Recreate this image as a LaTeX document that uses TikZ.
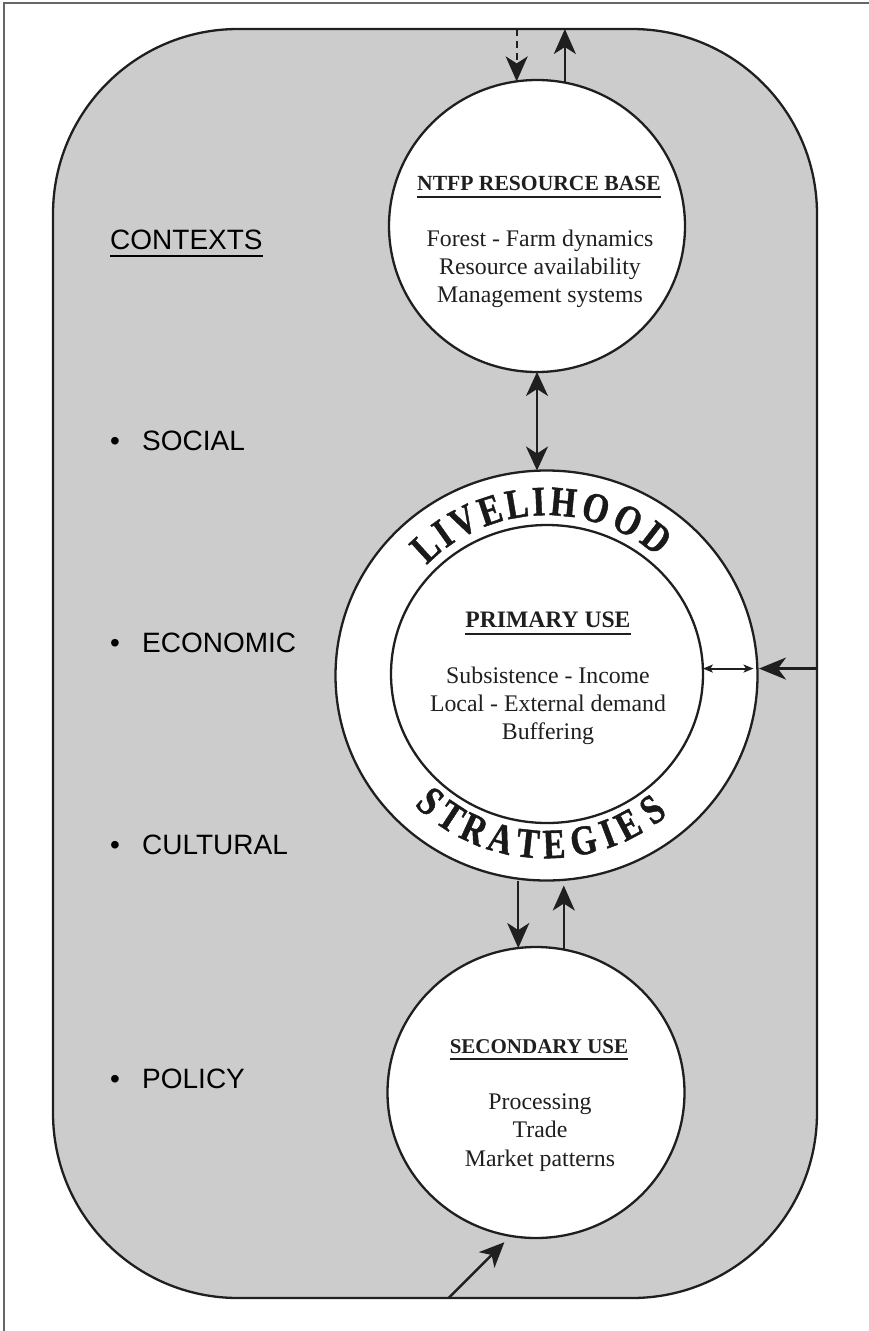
\documentclass[tikz,border=0pt]{standalone}
\usepackage{fontspec}
\setmainfont{Liberation Serif}
\newfontfamily\ctxfont{Liberation Sans}
\newfontfamily\arcfont{Liberation Serif}[FakeStretch=0.8, BoldFeatures={FakeBold=1}]
\usetikzlibrary{shapes.geometric,arrows.meta,calc}
\begin{document}
\begin{tikzpicture}[x=1pt, y=-1pt,
  outline/.style={draw=black!88, line width=2.3pt},
  bubble/.style={ellipse, outline, fill=white, inner sep=0pt, outer sep=0pt},
  bigtip/.style={-{Stealth[length=25pt,width=22pt,inset=7pt]}},
  arr/.style={draw=black!88, line width=2.4pt, bigtip},
  dblarr/.style={draw=black!88, line width=2.4pt, {Stealth[length=24pt,width=22pt,inset=7pt]}-{Stealth[length=24pt,width=22pt,inset=7pt]}},
  smallarr/.style={draw=black!88, line width=2pt, {Stealth[length=10pt,width=8pt,inset=2.5pt]}-{Stealth[length=10pt,width=8pt,inset=2.5pt]}},
  body/.style={font=\fontsize{23.8}{28}\selectfont, inner sep=0pt, anchor=base, text=black!88},
  head/.style={font=\bfseries\fontsize{#1}{#1}\selectfont, inner sep=0pt, anchor=base, text=black!88},
  uline/.style={draw=black!88, line width=1.4pt},
  ctxtext/.style={font=\ctxfont\fontsize{28}{32}\selectfont, inner sep=0pt, anchor=base west},
  arcletter/.style={font=\arcfont\bfseries\fontsize{42}{44}\selectfont, inner sep=0pt, anchor=center, text=black!90},
]
\useasboundingbox (0,0) rectangle (869,1331);
% page frame (top and left edges)
\draw[draw=black!60, line width=1.3pt] (869,3) -- (4,3) -- (4,1331);

% contexts area
\node[outline, fill=black!20, rounded corners=185pt, minimum width=764pt, minimum height=1269pt, inner sep=0pt, outer sep=0pt] (ctx) at (435,663.5) {};

% circles
\node[bubble, minimum width=296pt, minimum height=292pt] (t) at (537,226) {};
\node[bubble, minimum width=422pt, minimum height=410pt] (lo) at (546.5,675.5) {};
\node[bubble, minimum width=312pt, minimum height=298pt] (li) at (547,674) {};
\node[bubble, minimum width=297pt, minimum height=291pt] (s) at (536,1092.5) {};

% top circle text
\node[head=21.6] (th) at (539,190) {NTFP RESOURCE BASE};
\draw[uline] ([yshift=-7pt]th.base west) -- ([yshift=-7pt]th.base east);
\node[body] (t1) at (540,246) {Forest - Farm dynamics};
\node[body] (t2) at (540,274) {Resource availability};
\node[body] (t3) at (540,302) {Management systems};

% primary use text
\node[head=23.6] (ph) at (548,627) {PRIMARY USE};
\draw[uline] ([yshift=-7pt]ph.base west) -- ([yshift=-7pt]ph.base east);
\node[body] (p1) at (548,683) {Subsistence - Income};
\node[body] (p2) at (548,711.5) {Local - External demand};
\node[body] (p3) at (548,739.5) {Buffering};

% secondary use text
\node[head=21] (sh) at (539,1053) {SECONDARY USE};
\draw[uline] ([yshift=-6pt]sh.base west) -- ([yshift=-6pt]sh.base east);
\node[body] (s1) at (540,1109) {Processing};
\node[body] (s2) at (540,1137) {Trade};
\node[body] (s3) at (540,1166) {Market patterns};

% ring lettering
\foreach \ch/\a [count=\i] in {L/132.5,I/125.3,V/117.6,E/108.4,L/99.6,I/92.5,H/84.6,O/74,O/63,D/52.2}
  \node[arcletter, rotate=\a-90] (liv\i) at ({546.5+1.03*174*cos(\a)},{675.5-174*sin(\a)}) {\ch};
\foreach \ch/\a [count=\i] in {S/228.1,T/236.7,R/245.5,A/254.8,T/263.9,E/272.5,G/282.3,I/290.6,E/298,S/307.5}
  \node[arcletter, rotate=\a+90] (str\i) at ({546.5+1.03*169*cos(\a)},{675.5-169*sin(\a)}) {\ch};

% contexts list
\node[ctxtext] (ctxh) at (110,249) {CONTEXTS};
\draw[draw=black, line width=1.2pt] ([yshift=-7pt]ctxh.base west) -- ([yshift=-7pt]ctxh.base east);
\node[ctxtext, anchor=base] (b1) at (115,450) {\textbullet};
\node[ctxtext] (c1) at (142,450) {SOCIAL};
\node[ctxtext, anchor=base] (b2) at (115,652) {\textbullet};
\node[ctxtext] (c2) at (142,652) {ECONOMIC};
\node[ctxtext, anchor=base] (b3) at (115,854) {\textbullet};
\node[ctxtext] (c3) at (142,854) {CULTURAL};
\node[ctxtext, anchor=base] (b4) at (115,1088) {\textbullet};
\node[ctxtext] (c4) at (142,1088) {POLICY};

% connectors
\draw[arr, dash pattern=on 7pt off 5pt, line width=2.2pt] (t.98.7 |- ctx.north) -- (t.98.7);
\draw[arr] (t.79.7) -- (t.79.7 |- ctx.north);
\draw[dblarr] (t.south) -- (t.south |- lo.north);
\draw[smallarr, shorten >=4pt] (li.2) -- (li.2 -| lo.east);
\draw[arr, -{Stealth[length=27pt,width=22pt,inset=8pt]}, shorten >=1.5pt] (li.2 -| ctx.east) -- (li.2 -| lo.east);
\draw[arr] (s.97.5 |- lo.south) -- (s.97.5);
\draw[arr, shorten >=5pt] (s.79.7) -- (s.79.7 |- lo.south);
\draw[arr, shorten >=9pt] ($(s.260.3)+(-62,62)$) -- (s.260.3);
\end{tikzpicture}
\end{document}
